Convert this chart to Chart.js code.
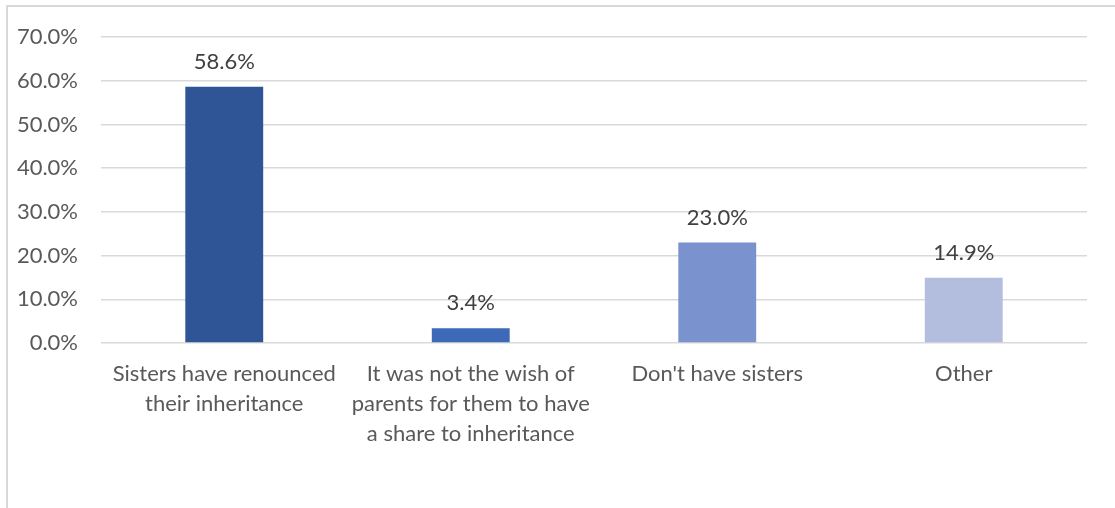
<!DOCTYPE html>
<html>
<head>
<meta charset="utf-8">
<script src="https://cdn.jsdelivr.net/npm/chart.js@4/dist/chart.umd.min.js"></script>
<style>
  html, body { margin: 0; padding: 0; background: #fff; overflow: hidden; }
  #wrap { position: relative; width: 1115px; height: 508px; }
  #frame { position: absolute; left: 6px; top: 5px; width: 1200px; height: 600px; border: 2px solid #d9d9d9; box-sizing: border-box; }
  canvas { position: absolute; left: 0; top: 0; }
</style>
</head>
<body>
<div id="wrap">
  <div id="frame"></div>
  <canvas id="chart" width="1115" height="508"></canvas>
</div>
<script>
  const categories = [
    ['Sisters have renounced', 'their inheritance'],
    ['It was not the wish of', 'parents for them to have', 'a share to inheritance'],
    "Don't have sisters",
    'Other'
  ];
  const values = [58.6, 3.4, 23.0, 14.9];
  const barColors = ['#2f5597', '#3d69b6', '#7a92ce', '#b3bede'];
  const yTicks = [0, 10, 20, 30, 40, 50, 60, 70];

  const fontFamily = 'Lato, "Open Sans", sans-serif';

  // value labels above each bar
  const valueLabels = {
    id: 'valueLabels',
    afterDatasetsDraw(chart) {
      const ctx = chart.ctx;
      const meta = chart.getDatasetMeta(0);
      ctx.save();
      ctx.font = '22px ' + fontFamily;
      ctx.fillStyle = '#404040';
      ctx.textAlign = 'center';
      ctx.textBaseline = 'middle';
      meta.data.forEach((bar, i) => {
        ctx.fillText(values[i].toFixed(1) + '%', bar.x, bar.y - 25);
      });
      ctx.restore();
    }
  };

  const ctx = document.getElementById('chart').getContext('2d');
  const chart = new Chart(ctx, {
    type: 'bar',
    data: {
      labels: categories,
      datasets: [{
        data: values,
        backgroundColor: barColors,
        borderWidth: 0,
        categoryPercentage: 1,
        barPercentage: 0.316
      }]
    },
    options: {
      responsive: false,
      animation: false,
      layout: { padding: { top: 37, right: 28, left: 0, bottom: 0 } },
      plugins: {
        legend: { display: false },
        tooltip: { enabled: false }
      },
      scales: {
        x: {
          grid: { display: false },
          border: { display: false },
          ticks: {
            color: '#595959',
            font: { family: fontFamily, size: 22, lineHeight: 1.364 },
            padding: 8,
            maxRotation: 0,
            autoSkip: false
          },
          afterFit(axis) { axis.height = 165; }
        },
        y: {
          min: 0,
          max: 70,
          afterBuildTicks(axis) { axis.ticks = yTicks.map(v => ({ value: v })); },
          grid: { color: '#d9d9d9', lineWidth: 1.5, drawTicks: false },
          border: { display: false },
          ticks: {
            color: '#595959',
            font: { family: fontFamily, size: 22 },
            padding: 23,
            callback: v => v.toFixed(1) + '%'
          },
          afterFit(axis) { axis.width = 101; }
        }
      }
    },
    plugins: [valueLabels]
  });
</script>
</body>
</html>
